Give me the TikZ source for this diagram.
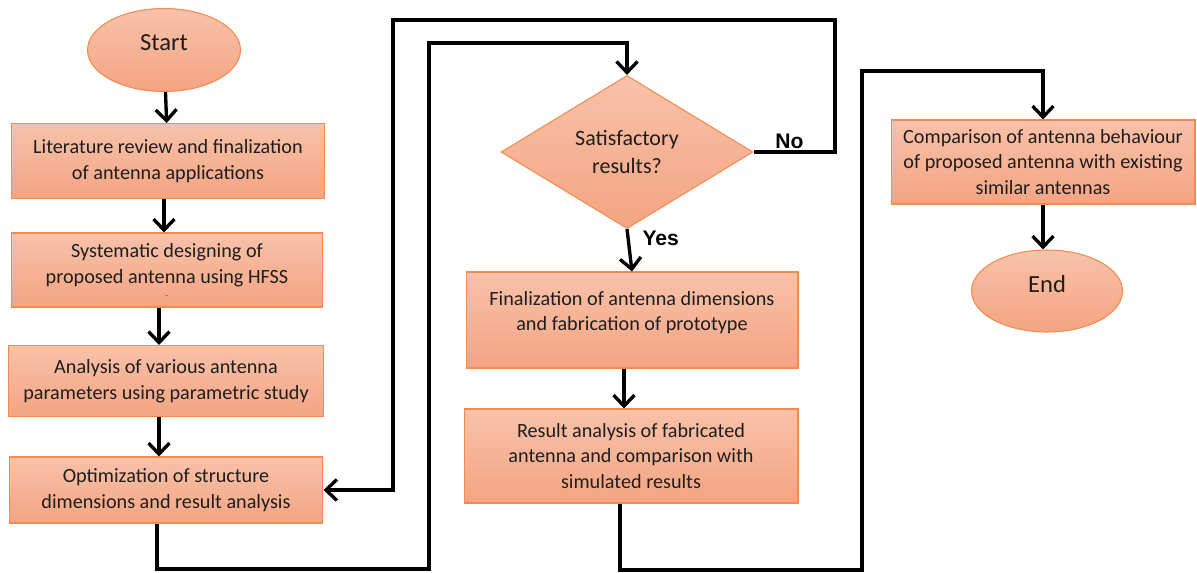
\documentclass[tikz,border=0pt]{standalone}
\usepackage{fontspec}
\setmainfont{Carlito}
\newfontfamily\lblfont{Liberation Sans}
\usetikzlibrary{positioning}
\usetikzlibrary{arrows.meta}
\usetikzlibrary{shapes.geometric}
\definecolor{boxtop}{RGB}{248,194,170}
\definecolor{boxbot}{RGB}{244,164,130}
\definecolor{boxedge}{RGB}{242,140,78}
\definecolor{inktext}{RGB}{30,30,30}

\tikzset{
    procbox/.style={rectangle, top color=boxtop, bottom color=boxbot, draw=boxedge,
        line width=0.6pt, align=center, text=inktext, inner sep=2pt,
        font=\fontsize{11.5}{14.7}\selectfont},
    terminal/.style={ellipse, top color=boxtop, bottom color=boxbot, draw=boxedge,
        line width=0.6pt, text=inktext, text depth=0.3cm,
        font=\fontsize{14}{16}\selectfont},
    decision/.style={diamond, top color=boxtop, bottom color=boxbot, draw=boxedge,
        line width=0.6pt, align=center, text=inktext, inner sep=1pt,
        font=\fontsize{12.5}{15.5}\selectfont},
    flow/.style={line width=1.9pt, -{Straight Barb[length=2.2mm,width=4.2mm]}},
    lbl/.style={font=\lblfont\bfseries\fontsize{12}{14}\selectfont, inner sep=1pt}
}

\begin{document}
\begin{tikzpicture}[x=0.02cm, y=-0.02cm]
    \useasboundingbox (0,0) rectangle (1197,572);

    % left column
    \node[terminal, minimum width=3.06cm, minimum height=1.66cm] (start) at (164,50) {Start};
    \node[procbox, minimum width=6.26cm, minimum height=1.5cm] (lit) at (168,161)
        {Literature review and finalization\\of antenna applications};
    \node[procbox, minimum width=6.24cm, minimum height=1.48cm] (design) at (167,270)
        {Systematic designing of\\proposed antenna using HFSS\\[-7pt]{\tiny .}};
    \node[procbox, minimum width=6.32cm, minimum height=1.42cm] (analysis) at (166,381)
        {Analysis of various antenna\\parameters using parametric study};
    \node[procbox, minimum width=6.28cm, minimum height=1.32cm] (opt) at (166,490)
        {Optimization of structure\\dimensions and result analysis};

    % middle column
    \node[decision, minimum width=5.04cm, minimum height=2.96cm] (check) at (627,152)
        {Satisfactory\\results?};
    \node[procbox, minimum width=6.64cm, minimum height=1.92cm, text depth=0.36cm] (proto) at (632,320)
        {Finalization of antenna dimensions\\and fabrication of prototype};
    \node[procbox, minimum width=6.68cm, minimum height=1.88cm] (result) at (631,456)
        {Result analysis of fabricated\\antenna and comparison with\\simulated results};

    % right column
    \node[procbox, minimum width=6.08cm, minimum height=1.68cm] (compare) at (1043,162)
        {Comparison of antenna behaviour\\of proposed antenna with existing\\similar antennas};
    \node[terminal, minimum width=3.02cm, minimum height=1.64cm] (finish) at (1047,291) {End};

    % connectors
    \draw[flow] (start) -- (lit);
    \draw[flow] ([xshift=-0.08cm]lit.south) -- ([xshift=-0.08cm]lit.south |- design.north);
    \draw[flow] ([xshift=-0.16cm]design.south) -- ([xshift=-0.16cm]design.south |- analysis.north);
    \draw[flow] ([xshift=-0.14cm]analysis.south) -- ([xshift=-0.14cm]analysis.south |- opt.north);
    \draw[flow] ([xshift=-0.18cm]opt.south) |- (429,569) -- (429,43) -| (check.north);
    \draw[flow] (check.east) -- node[lbl, above, pos=0.44] {No} (835,152) -- (835,20)
        -- (393,20) |- (opt.east);
    \draw[flow] (check.south) -- node[lbl, right=0.22cm, pos=0.22] {Yes} (proto.north);
    \draw[flow] ([xshift=-0.16cm]proto.south) -- ([xshift=-0.16cm]proto.south |- result.north);
    \draw[flow] ([xshift=-0.22cm]result.south) |- (862,570) -- (862,71) -| (compare.north);
    \draw[flow] (compare.south) -- (compare.south |- finish.north);
\end{tikzpicture}
\end{document}
